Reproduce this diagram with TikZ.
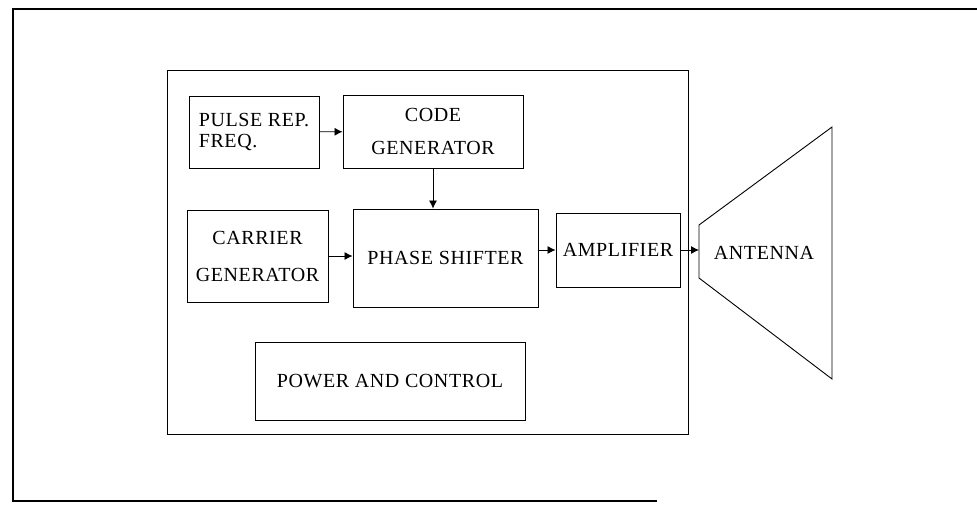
\documentclass[tikz,border=0pt]{standalone}
\usepackage{fontspec}
\setmainfont{Liberation Serif}[LetterSpace=3]
\usetikzlibrary{arrows.meta}

\begin{document}
\begin{tikzpicture}[x=1pt,y=-1pt,
  blk/.style={draw,line width=0.9pt,inner sep=0pt,font=\fontsize{20}{22}\selectfont},
  arr/.style={-{Latex[length=8pt,width=8pt]},line width=0.8pt}]

\useasboundingbox (0,0) rectangle (977,507);

% outer frame (open on the right)
\draw [line width=1.8pt] (977,9)--(13,9)--(13,501)--(657,501);

% inner frame
\draw [line width=0.9pt] (167,70) rectangle (688,434);

\node[blk,minimum width=130,minimum height=72,align=left,font=\fontsize{20}{20.5}\selectfont] (pulse) at (254,132) {PULSE REP.\\FREQ.};
\node[blk,minimum width=180,minimum height=73,align=center,font=\fontsize{20}{33}\selectfont] (code) at (433,131.5) {CODE\\GENERATOR};

\node[blk,minimum width=141,minimum height=92,align=center,font=\fontsize{20}{37}\selectfont] (carrier) at (257.5,256) {CARRIER\\GENERATOR};
\node[blk,minimum width=185,minimum height=98] (phase) at (445.5,258) {PHASE SHIFTER};
\node[blk,minimum width=124,minimum height=74] (amp) at (618,250) {AMPLIFIER};

\node[blk,minimum width=270,minimum height=78] (power) at (390,381) {POWER AND CONTROL};

% antenna horn
\draw [line width=0.9pt] (699,225)--(832,127)--(832,379)--(699,278)--cycle;
\coordinate (ant) at (699,250);
\node[font=\fontsize{20}{22}\selectfont] (antlabel) at (764,253) {ANTENNA};

\draw [arr] (pulse)--(code);
\draw [arr] (code)--(code |- phase.north);
\draw [arr] (carrier)--(carrier -| phase.west);
\draw [arr] (phase.east |- amp)--(amp);
\draw [arr] (amp)--(ant);

\end{tikzpicture}
\end{document}
